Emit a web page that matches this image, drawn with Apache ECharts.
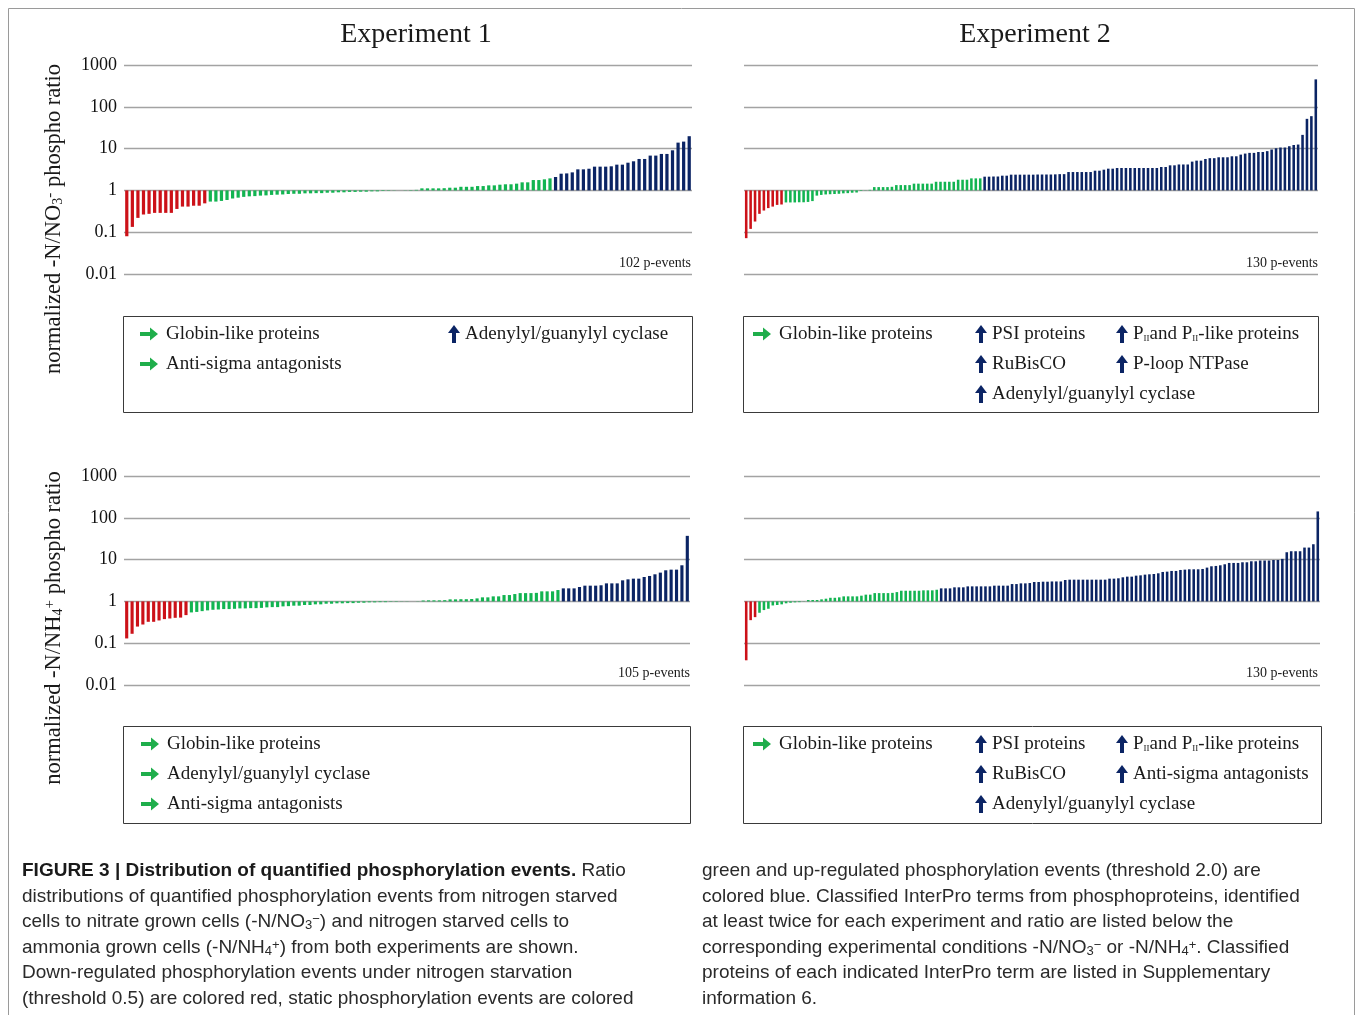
<!DOCTYPE html>
<html>
<head>
<meta charset="utf-8">
<script src="https://cdn.jsdelivr.net/npm/echarts@6/dist/echarts.min.js"></script>
<style>
  html, body { margin: 0; padding: 0; background: #fff; }
  #main { width: 1357px; height: 1015px; }
</style>
</head>
<body>
<div id="main"></div>
<script>
// sorted phospho ratios, one bar per p-event
var exp1NO3 = [0.08, 0.134, 0.22, 0.265, 0.275, 0.29, 0.29, 0.29, 0.29, 0.36, 0.41, 0.41, 0.43, 0.43, 0.49,
  0.54, 0.54, 0.56, 0.59, 0.64, 0.67, 0.70, 0.72, 0.73, 0.75, 0.76, 0.78, 0.79, 0.80, 0.82, 0.83,
  0.83, 0.85, 0.85, 0.86, 0.86, 0.88, 0.88, 0.90, 0.90, 0.92, 0.92, 0.93, 0.93, 0.95, 0.95, 0.97,
  0.98, 0.99, 1.0, 1.01, 1.02, 1.03,
  1.12, 1.12, 1.12, 1.12, 1.13, 1.16, 1.16, 1.22, 1.22, 1.22, 1.27, 1.27, 1.32, 1.32, 1.37, 1.40,
  1.40, 1.45, 1.56, 1.56, 1.77, 1.77, 1.84, 1.94,
  2.09, 2.51, 2.55, 2.7, 3.19, 3.19, 3.3, 3.7, 3.7, 3.7, 3.77, 4.13, 4.13, 4.6, 4.97, 5.65, 5.65,
  6.8, 6.8, 7.45, 7.45, 9.1, 13.9, 14.7, 19.8];

var exp2NO3 = [0.072, 0.12, 0.18, 0.275, 0.33, 0.377, 0.41, 0.45, 0.46,
  0.515, 0.515, 0.515, 0.52, 0.52, 0.53, 0.555,
  0.75, 0.78, 0.80, 0.81, 0.82, 0.83, 0.85, 0.86, 0.88, 0.89, 0.97, 1.01, 1.03,
  1.2, 1.2, 1.2, 1.2, 1.22, 1.34, 1.34, 1.34, 1.34, 1.45, 1.45, 1.45, 1.45, 1.45,
  1.61, 1.61, 1.61, 1.61, 1.61, 1.8, 1.8, 1.8, 1.94, 1.94, 1.94,
  2.13, 2.13, 2.15, 2.15, 2.25, 2.25, 2.38, 2.38, 2.38, 2.38, 2.38,
  2.38, 2.4, 2.4, 2.4, 2.4, 2.42, 2.45, 2.45,
  2.75, 2.75, 2.75, 2.75, 2.75, 2.75, 2.96, 2.96, 3.13, 3.31, 3.31,
  3.44, 3.44, 3.44, 3.44, 3.44, 3.44, 3.44, 3.44, 3.44, 3.44,
  3.63, 3.63, 3.98, 3.98, 4.17, 4.17, 4.17, 4.88, 5.15, 5.15, 5.65, 5.9, 5.9,
  6.2, 6.2, 6.2, 6.55, 6.55, 7.18, 7.6, 7.9, 7.9, 8.3, 8.3, 8.7, 9.5, 10.2, 10.6, 10.6,
  11.4, 12.2, 12.5, 21.3, 51.5, 59.7, 453];

var exp1NH4 = [0.13, 0.168, 0.25, 0.28, 0.325, 0.325, 0.35, 0.377, 0.39, 0.405, 0.41, 0.47,
  0.545, 0.56, 0.585, 0.61, 0.63, 0.64, 0.655, 0.655, 0.665, 0.68, 0.68, 0.69, 0.69, 0.70,
  0.72, 0.73, 0.73, 0.76, 0.77, 0.79, 0.79, 0.82, 0.82, 0.85, 0.85, 0.88, 0.88, 0.9, 0.9,
  0.91, 0.91, 0.93, 0.93, 0.95, 0.95, 0.96, 0.96, 0.98, 0.98, 0.99, 0.99,
  1.0, 1.01, 1.05, 1.06, 1.06, 1.06, 1.07, 1.12, 1.12, 1.13, 1.13, 1.14, 1.18, 1.25, 1.25,
  1.32, 1.32, 1.42, 1.42, 1.5, 1.58, 1.58, 1.58, 1.6, 1.74, 1.74, 1.74, 1.87,
  2.05, 2.05, 2.05, 2.21, 2.38, 2.38, 2.38, 2.43, 2.7, 2.7, 2.7, 3.19, 3.37, 3.5, 3.5,
  3.84, 4.06, 4.45, 4.88, 5.55, 5.75, 5.75, 7.31, 37];

var exp2NH4 = [0.039, 0.356, 0.42,
  0.535, 0.62, 0.667, 0.8, 0.82, 0.85, 0.9, 0.93, 0.95, 0.96,
  1.01, 1.08, 1.08, 1.08, 1.12, 1.16, 1.22, 1.22, 1.25, 1.32, 1.32, 1.32, 1.32, 1.37, 1.45,
  1.45, 1.58, 1.58, 1.58, 1.58, 1.6, 1.67, 1.8, 1.8, 1.8, 1.8, 1.8, 1.84, 1.84, 1.84, 1.9,
  2.05, 2.05, 2.05, 2.17, 2.17, 2.17, 2.29, 2.29, 2.29, 2.29, 2.29, 2.29, 2.38, 2.38, 2.38,
  2.38, 2.6, 2.6,
  2.7, 2.7, 2.75, 2.91, 2.91, 2.96, 2.96, 3.0, 3.0, 3.0, 3.25, 3.31, 3.31, 3.31, 3.31, 3.31,
  3.31, 3.31, 3.31, 3.31, 3.5, 3.5, 3.57, 3.77, 3.91, 3.91, 4.13, 4.2, 4.37, 4.45, 4.53, 4.7,
  5.06, 5.15, 5.35, 5.35, 5.65, 5.75, 5.86, 5.86, 5.86, 5.97, 6.43, 6.92, 7.05, 7.31, 7.73,
  8.32, 8.32, 8.32, 8.63, 8.63, 9.12, 9.12, 9.5, 9.5, 9.5, 9.8, 9.8, 10.4, 15.0, 15.85,
  15.85, 15.85, 19.4, 19.4, 23.3, 142];

var yTickLabels = ['0.01', '0.1', '1', '10', '100', '1000'];
var titles = ['Experiment 1', 'Experiment 2'];
var thresholdDown = 0.5, thresholdUp = 2.0;

var RED = '#cc1118', GREEN = '#12b451', BLUE = '#0b2464';
var SERIF = '"Liberation Serif", "Times New Roman", serif';
var SANS = '"Liberation Sans", Arial, Helvetica, sans-serif';

// panel layout
var panels = [
  { data: exp1NO3, left: 124, top: 65, width: 568, labels: true },
  { data: exp2NO3, left: 744, top: 65, width: 574, labels: false },
  { data: exp1NH4, left: 124, top: 476, width: 566, labels: true },
  { data: exp2NH4, left: 744, top: 476, width: 576, labels: false }
];
var plotH = 209;

function barColor(v) {
  if (v < thresholdDown) return RED;
  if (v > thresholdUp) return BLUE;
  return GREEN;
}

function renderBar(params, api) {
  var v = api.value(1);
  var base = api.coord([api.value(0), 1]);
  var top = api.coord([api.value(0), v]);
  var w = api.size([1, 1])[0] * 0.58;
  return {
    type: 'rect',
    shape: { x: base[0] - w / 2, y: Math.min(base[1], top[1]), width: w, height: Math.abs(top[1] - base[1]) },
    style: { fill: barColor(v) }
  };
}

var grids = [], xAxes = [], yAxes = [], series = [];
panels.forEach(function (p, k) {
  grids.push({ left: p.left, top: p.top, width: p.width, height: plotH });
  xAxes.push({
    type: 'category', gridIndex: k,
    data: p.data.map(function (_, i) { return i + 1; }),
    axisLine: { show: false }, axisTick: { show: false }, axisLabel: { show: false }, splitLine: { show: false }
  });
  yAxes.push({
    type: 'log', logBase: 10, gridIndex: k, min: 0.01, max: 1000,
    axisLine: { show: false }, axisTick: { show: false },
    axisLabel: {
      show: p.labels, margin: 7, color: '#111', fontFamily: SERIF, fontSize: 18,
      formatter: function (v) { return yTickLabels[Math.round(Math.log10(v)) + 2]; }
    },
    splitLine: { lineStyle: { color: '#a3a3a3', width: 1.3 } }
  });
  series.push({
    type: 'custom', xAxisIndex: k, yAxisIndex: k,
    renderItem: renderBar,
    data: p.data.map(function (v, i) { return [i, v]; })
  });
});

// graphic pieces: titles, counts, axis names, legend boxes, caption
var g = [];
function txt(x, y, text, opt) {
  opt = opt || {};
  g.push({
    type: 'text', x: x, y: y, rotation: opt.rotation || 0,
    style: {
      text: text, fill: opt.color || '#1a1a1a',
      font: (opt.weight || 'normal') + ' ' + (opt.size || 19) + 'px ' + (opt.family || SERIF),
      align: opt.align || 'left', verticalAlign: 'middle',
      rich: opt.rich
    }
  });
}

g.push({ type: 'rect', shape: { x: 8.5, y: 8.5, width: 1346, height: 1012 }, style: { fill: 'none', stroke: '#9a9a9a', lineWidth: 1 } });

txt(416, 35, titles[0], { size: 28, align: 'center' });
txt(1035, 35, titles[1], { size: 28, align: 'center' });

var counts = [102, 130, 105, 130];
txt(691, 263, counts[0] + ' p-events', { size: 14, align: 'right' });
txt(1318, 263, counts[1] + ' p-events', { size: 14, align: 'right' });
txt(690, 673, counts[2] + ' p-events', { size: 14, align: 'right' });
txt(1318, 673, counts[3] + ' p-events', { size: 14, align: 'right' });

var axRich = {
  sub: { fontSize: 14, fontFamily: SERIF, verticalAlign: 'bottom' },
  sup: { fontSize: 15, fontFamily: SERIF, verticalAlign: 'top' }
};
txt(54, 219, 'normalized -N/NO{sub|3}{sup|-} phospho ratio', { size: 22.5, rotation: Math.PI / 2, align: 'center', rich: axRich });
txt(54, 628, 'normalized -N/NH{sub|4}{sup|+} phospho ratio', { size: 22.5, rotation: Math.PI / 2, align: 'center', rich: axRich });

// legend boxes
function box(x, y, w, h) {
  g.push({ type: 'rect', shape: { x: x + 0.5, y: y + 0.5, width: w, height: h }, style: { fill: 'none', stroke: '#3a3a3a', lineWidth: 1 } });
}
function arrowRight(x, y) {
  g.push({ type: 'polygon', shape: { points: [[x, y - 2], [x + 10, y - 2], [x + 10, y - 6.5], [x + 18, y], [x + 10, y + 6.5], [x + 10, y + 2], [x, y + 2]] }, style: { fill: '#1fae4b' } });
}
function arrowUp(x, y) {
  g.push({ type: 'polygon', shape: { points: [[x - 2, y + 9], [x - 2, y - 1], [x - 6, y - 1], [x, y - 9], [x + 6, y - 1], [x + 2, y - 1], [x + 2, y + 9]] }, style: { fill: '#0b2464' } });
}
var pRich = { s: { fontSize: 9, fontFamily: SERIF, verticalAlign: 'bottom' } };
function legendItem(kind, x, y, label) {
  if (kind === 'flat') { arrowRight(x, y); txt(x + 26, y, label); }
  else { arrowUp(x, y); txt(x + 11, y, label, { rich: pRich }); }
}

box(123, 316, 569, 96);
legendItem('flat', 140, 334, 'Globin-like proteins');
legendItem('flat', 140, 364, 'Anti-sigma antagonists');
legendItem('up', 454, 334, 'Adenylyl/guanylyl cyclase');

box(743, 316, 575, 96);
legendItem('flat', 753, 334, 'Globin-like proteins');
legendItem('up', 981, 334, 'PSI proteins');
legendItem('up', 981, 364, 'RuBisCO');
legendItem('up', 981, 394, 'Adenylyl/guanylyl cyclase');
legendItem('up', 1122, 334, 'P{s|II}and P{s|II}-like proteins');
legendItem('up', 1122, 364, 'P-loop NTPase');

box(123, 726, 567, 97);
legendItem('flat', 141, 744, 'Globin-like proteins');
legendItem('flat', 141, 774, 'Adenylyl/guanylyl cyclase');
legendItem('flat', 141, 804, 'Anti-sigma antagonists');

box(743, 726, 578, 97);
legendItem('flat', 753, 744, 'Globin-like proteins');
legendItem('up', 981, 744, 'PSI proteins');
legendItem('up', 981, 774, 'RuBisCO');
legendItem('up', 981, 804, 'Adenylyl/guanylyl cyclase');
legendItem('up', 1122, 744, 'P{s|II}and P{s|II}-like proteins');
legendItem('up', 1122, 774, 'Anti-sigma antagonists');

// caption
var capRich = {
  b: { fontWeight: 'bold', fontSize: 19, fontFamily: SANS, fill: '#1a1a1a' },
  sub: { fontSize: 13, fontFamily: SANS, verticalAlign: 'bottom' },
  sup: { fontSize: 13, fontFamily: SANS, verticalAlign: 'top' }
};
var capLeft = [
  '{b|FIGURE 3 | Distribution of quantified phosphorylation events.} Ratio',
  'distributions of quantified phosphorylation events from nitrogen starved',
  'cells to nitrate grown cells (-N/NO{sub|3}{sup|\u2212}) and nitrogen starved cells to',
  'ammonia grown cells (-N/NH{sub|4}{sup|+}) from both experiments are shown.',
  'Down-regulated phosphorylation events under nitrogen starvation',
  '(threshold 0.5) are colored red, static phosphorylation events are colored'
];
var capRight = [
  'green and up-regulated phosphorylation events (threshold 2.0) are',
  'colored blue. Classified InterPro terms from phosphoproteins, identified',
  'at least twice for each experiment and ratio are listed below the',
  'corresponding experimental conditions -N/NO{sub|3}{sup|\u2212} or -N/NH{sub|4}{sup|+}. Classified',
  'proteins of each indicated InterPro term are listed in Supplementary',
  'information 6.'
];
var capY = [871, 897, 922, 948, 973, 999];
capLeft.forEach(function (s, i) { txt(22, capY[i], s, { family: SANS, size: 19, color: '#2a2a2a', rich: capRich }); });
capRight.forEach(function (s, i) { txt(702, capY[i], s, { family: SANS, size: 19, color: '#2a2a2a', rich: capRich }); });

var chart = echarts.init(document.getElementById('main'));
chart.setOption({
  backgroundColor: '#fff',
  animation: false,
  grid: grids,
  xAxis: xAxes,
  yAxis: yAxes,
  series: series,
  graphic: g
});
</script>
</body>
</html>
